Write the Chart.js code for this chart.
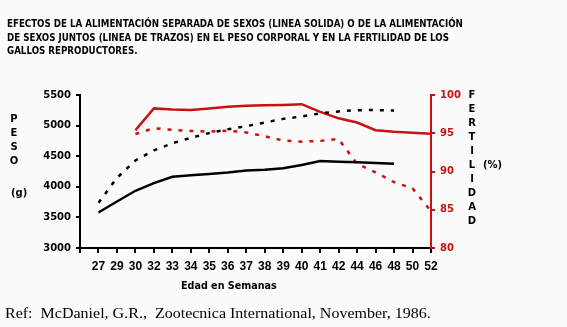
<!DOCTYPE html>
<html>
<head>
<meta charset="utf-8">
<script src="https://cdn.jsdelivr.net/npm/chart.js@4.4.0/dist/chart.umd.min.js"></script>
<style>
  body { margin: 0; background: #fbfbfb; }
  #wrap { position: relative; width: 567px; height: 327px; overflow: hidden; }
  #chart { position: absolute; left: 0; top: 0; }
  .t { position: absolute; white-space: nowrap; transform-origin: 0 0; font-family: "DejaVu Sans", sans-serif; font-weight: bold; color: #000; }
  .title { font-size: 11px; left: 7px; }
  .v { font-size: 10px; width: 14px; text-align: center; line-height: 14px; }
  .ref { font-family: "Liberation Serif", "Times New Roman", serif; font-weight: normal; font-size: 15px; left: 5px; top: 305px; }
</style>
</head>
<body>
<div id="wrap">
  <canvas id="chart" width="567" height="327"></canvas>
  <div class="t title" id="l1" style="top:17px">EFECTOS DE LA ALIMENTACIÓN SEPARADA DE SEXOS (LINEA SOLIDA) O DE LA ALIMENTACIÓN</div>
  <div class="t title" id="l2" style="top:31px">DE SEXOS JUNTOS (LINEA DE TRAZOS) EN EL PESO CORPORAL Y EN LA FERTILIDAD DE LOS</div>
  <div class="t title" id="l3" style="top:44px">GALLOS REPRODUCTORES.</div>
  <div class="t v" style="left:7px;top:112px">P<br>E<br>S<br>O</div>
  <div class="t v" style="left:11px;top:186px;width:auto">(g)</div>
  <div class="t v" style="left:465px;top:88px">F<br>E<br>R<br>T<br>I<br>L<br>I<br>D<br>A<br>D</div>
  <div class="t v" style="left:483px;top:158px;width:auto">(%)</div>
  <div class="t" id="xt" style="left:181px;top:279px;font-size:11px">Edad en Semanas</div>
  <div class="t ref" id="ref">Ref:&nbsp; McDaniel, G.R.,&nbsp; Zootecnica International, November, 1986.</div>
</div>
<script>
// semanas de edad (la primera posicion queda vacia, junto al eje)
const semanas = ['', '27', '29', '30', '32', '33', '34', '35', '36', '37', '38', '39', '40', '41', '42', '44', '46', '48', '50', '52'];

// peso corporal (g)
const pesoSeparado = [null, 3580, 3760, 3935, 4060, 4165, 4190, 4210, 4232, 4265, 4280, 4305, 4355, 4422, 4408, 4400, 4390, 4378, null, null];
const pesoJuntos = [null, 3740, 4145, 4430, 4595, 4712, 4800, 4880, 4940, 4990, 5050, 5110, 5150, 5200, 5232, 5252, 5255, 5245, null, null];

// fertilidad (%)
const fertSeparado = [null, null, null, 95.4, 98.25, 98.1, 98.05, 98.25, 98.45, 98.6, 98.65, 98.7, 98.8, 97.8, 96.95, 96.4, 95.4, 95.2, 95.07, 94.95];
const fertJuntos = [null, null, null, 94.9, 95.65, 95.45, 95.3, 95.2, 95.35, 95.1, 94.6, 94.05, 93.9, 94.0, 94.25, 91.0, 89.9, 88.6, 87.8, 84.8];

const pesoTicks = [3000, 3500, 4000, 4500, 5000, 5500];
const fertTicks = [80, 85, 90, 95, 100];

const rojo = '#cc1010';

// estirar los textos al ancho del original
function fit(id, w) {
    const el = document.getElementById(id);
    el.style.transform = 'scaleX(' + (w / el.offsetWidth) + ')';
    return w / el.offsetWidth;
}
const k = fit('l1', 456);
document.getElementById('l2').style.transform = 'scaleX(' + k + ')';
document.getElementById('l3').style.transform = 'scaleX(' + k + ')';
fit('xt', 96);
fit('ref', 426);

const axisFont = { family: 'DejaVu Sans', weight: 'bold', size: 10 };

new Chart(document.getElementById('chart').getContext('2d'), {
    type: 'line',
    data: {
        labels: semanas,
        datasets: [{
            data: pesoSeparado,
            yAxisID: 'y',
            borderColor: '#000',
            borderWidth: 2.5,
            pointRadius: 0
        }, {
            data: pesoJuntos,
            yAxisID: 'y',
            borderColor: '#000',
            borderWidth: 2.5,
            borderDash: [4, 7],
            pointRadius: 0
        }, {
            data: fertSeparado,
            yAxisID: 'y2',
            borderColor: rojo,
            borderWidth: 2.5,
            pointRadius: 0
        }, {
            data: fertJuntos,
            yAxisID: 'y2',
            borderColor: rojo,
            borderWidth: 2.5,
            borderDash: [4, 7],
            pointRadius: 0
        }]
    },
    options: {
        responsive: false,
        animation: false,
        layout: { padding: { top: 95, left: 0, right: 0, bottom: 0 } },
        plugins: {
            legend: { display: false },
            tooltip: { enabled: false }
        },
        scales: {
            x: {
                offset: false,
                grid: { drawOnChartArea: false, tickLength: 5, color: '#000', lineWidth: 2 },
                border: { color: '#000', width: 2 },
                ticks: {
                    color: '#000', autoSkip: false, maxRotation: 0, padding: 6,
                    font: { family: 'Liberation Sans', weight: 'bold', size: 12 }
                },
                afterFit: s => { s.height = 79; }
            },
            y: {
                position: 'left',
                min: 3000, max: 5500,
                afterBuildTicks: s => { s.ticks = pesoTicks.map(v => ({ value: v })); },
                grid: { drawOnChartArea: false, tickLength: 4, color: '#000', lineWidth: 2 },
                border: { color: '#000', width: 2 },
                ticks: { color: '#000', padding: 5, font: axisFont, callback: v => String(v) },
                afterFit: s => { s.width = 80; }
            },
            y2: {
                position: 'right',
                min: 80, max: 100,
                afterBuildTicks: s => { s.ticks = fertTicks.map(v => ({ value: v })); },
                grid: { drawOnChartArea: false, tickLength: 4, color: rojo, lineWidth: 2 },
                border: { color: rojo, width: 2 },
                ticks: { color: rojo, padding: 5, font: axisFont, callback: v => String(v) },
                afterFit: s => { s.width = 136; }
            }
        }
    }
});
</script>
</body>
</html>
